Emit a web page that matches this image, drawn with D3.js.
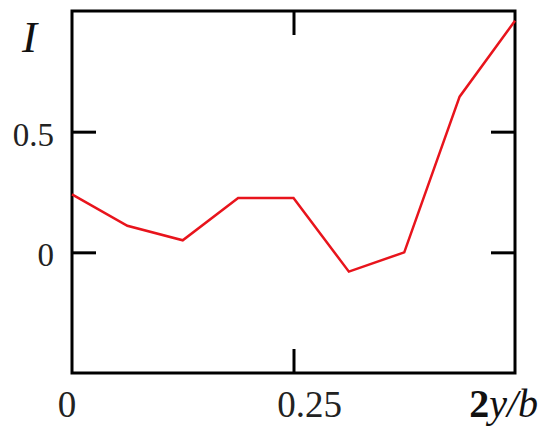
<!DOCTYPE html>
<html>
<head>
<meta charset="utf-8">
<script src="https://cdn.jsdelivr.net/npm/d3@7"></script>
<style>
  body { margin: 0; background: #fff; }
  svg { display: block; }
</style>
</head>
<body>
<div id="chart"></div>
<script>
// data
const xValues = [0, 0.0625, 0.125, 0.1875, 0.25, 0.3125, 0.375, 0.4375, 0.5];
const iValues = [0.24, 0.11, 0.05, 0.225, 0.225, -0.08, 0, 0.645, 0.96];
const xTicks = [0, 0.25];
const yTicks = [0, 0.5];

const width = 540, height = 432;
const margin = { top: 11, right: 25, bottom: 59, left: 72 };

const svg = d3.select("#chart").append("svg")
    .attr("width", width)
    .attr("height", height);

const x = d3.scaleLinear().domain([0, 0.5]).range([margin.left, width - margin.right]);
const y = d3.scaleLinear().domain([-0.5, 1.0]).range([height - margin.bottom, margin.top]);

const font = "'Liberation Serif', 'DejaVu Serif', serif";
const tickLen = 24;

// inner ticks on all four sides
svg.append("g")
    .attr("transform", `translate(0,${y.range()[0]})`)
    .call(d3.axisBottom(x).tickValues([0.25]).tickSize(-tickLen).tickFormat(""))
    .call(g => g.select(".domain").remove());
svg.append("g")
    .attr("transform", `translate(0,${y.range()[1]})`)
    .call(d3.axisTop(x).tickValues([0.25]).tickSize(-tickLen).tickFormat(""))
    .call(g => g.select(".domain").remove());
svg.append("g")
    .attr("transform", `translate(${x.range()[0]},0)`)
    .call(d3.axisLeft(y).tickValues(yTicks).tickSize(-tickLen).tickFormat(""))
    .call(g => g.select(".domain").remove());
svg.append("g")
    .attr("transform", `translate(${x.range()[1]},0)`)
    .call(d3.axisRight(y).tickValues(yTicks).tickSize(-tickLen).tickFormat(""))
    .call(g => g.select(".domain").remove());

svg.selectAll(".tick line")
    .attr("stroke", "#000")
    .attr("stroke-width", 3);

// frame
svg.append("rect")
    .attr("x", x.range()[0])
    .attr("y", y.range()[1])
    .attr("width", x.range()[1] - x.range()[0])
    .attr("height", y.range()[0] - y.range()[1])
    .attr("fill", "none")
    .attr("stroke", "#000")
    .attr("stroke-width", 3);

// data line
const line = d3.line()
    .x((d, i) => x(xValues[i]))
    .y(d => y(d));

svg.append("path")
    .datum(iValues)
    .attr("fill", "none")
    .attr("stroke", "#e8141c")
    .attr("stroke-width", 2.5)
    .attr("stroke-linejoin", "miter")
    .attr("d", line);

// tick labels
svg.append("g")
    .selectAll("text")
    .data(yTicks)
    .join("text")
    .attr("x", 54)
    .attr("y", d => y(d) + 14)
    .attr("text-anchor", "end")
    .style("font-family", font)
    .style("font-size", "33px")
    .attr("fill", "#222")
    .text(d => d);

const xLabelShift = { 0: -5, 0.25: 16 };
svg.append("g")
    .selectAll("text")
    .data(xTicks)
    .join("text")
    .attr("x", d => x(d) + xLabelShift[d])
    .attr("y", 417)
    .attr("text-anchor", "middle")
    .style("font-family", font)
    .style("font-size", "37px")
    .attr("fill", "#222")
    .text(d => d);

// axis titles
svg.append("text")
    .attr("x", 22)
    .attr("y", 52)
    .style("font-family", font)
    .style("font-size", "45px")
    .style("font-style", "italic")
    .attr("fill", "#111")
    .text("I");

const xt = svg.append("text")
    .attr("x", 538)
    .attr("y", 417)
    .attr("text-anchor", "end")
    .style("font-family", font)
    .style("font-size", "40px")
    .attr("fill", "#111");
xt.append("tspan").style("font-weight", "bold").text("2");
xt.append("tspan").style("font-style", "italic").text("y/b");
</script>
</body>
</html>
